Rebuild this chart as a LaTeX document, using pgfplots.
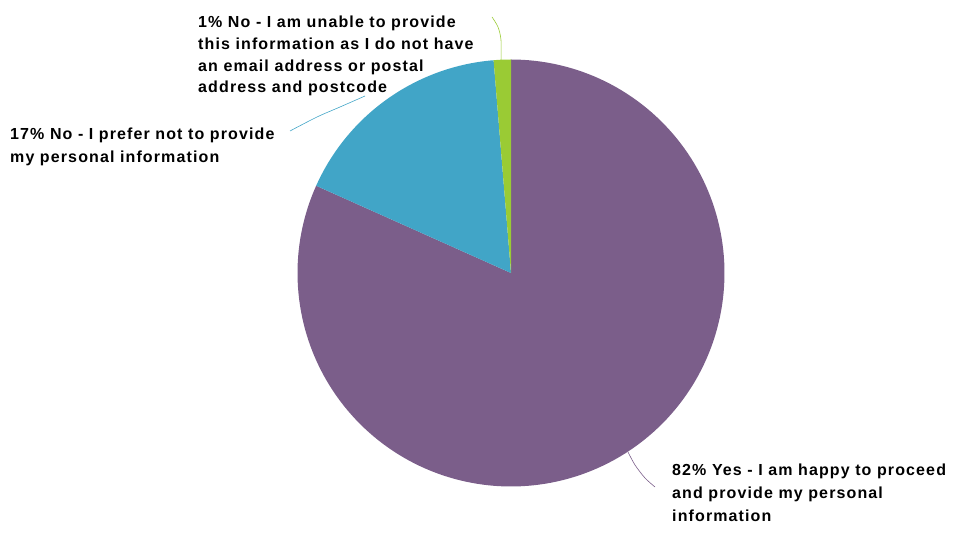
\documentclass[border=0pt]{standalone}
\usepackage{pgfplots}
\pgfplotsset{compat=1.18}
\usepackage{fontspec}
\setmainfont{Liberation Sans}[LetterSpace=7]
\definecolor{cpurple}{RGB}{123,94,138}
\definecolor{cblue}{RGB}{65,165,199}
\definecolor{cgreen}{RGB}{154,203,52}
\begin{document}
\begin{tikzpicture}
% data: shares in percent
\def\vYes{81.7}\def\vPref{17.0}\def\vUnable{1.3}
\pgfmathsetmacro\aA{90}
\pgfmathsetmacro\aB{\aA-3.6*\vYes}
\pgfmathsetmacro\aC{\aB-3.6*\vPref}
\pgfmathsetmacro\aD{\aC-3.6*\vUnable}
\def\cx{511}\def\cy{271}\def\R{213.5}
\begin{axis}[width=957bp,height=544bp,scale only axis,
  xmin=0,xmax=957,ymin=0,ymax=544,hide axis,clip=false]
\path (axis cs:0,0) rectangle (axis cs:957,544);
\addplot[fill=cpurple,draw=none,domain=\aB:\aA,samples=180]
  ({\cx+\R*cos(x)},{\cy+\R*sin(x)}) -- (axis cs:\cx,\cy) -- cycle;
\addplot[fill=cblue,draw=none,domain=\aC:\aB,samples=60]
  ({\cx+\R*cos(x)},{\cy+\R*sin(x)}) -- (axis cs:\cx,\cy) -- cycle;
\addplot[fill=cgreen,draw=none,domain=\aD:\aC,samples=10]
  ({\cx+\R*cos(x)},{\cy+\R*sin(x)}) -- (axis cs:\cx,\cy) -- cycle;
% leader lines
\addplot[cgreen,semithick,smooth] coordinates {(492,527) (498,517) (501,504) (501,483)};
\addplot[cblue,semithick,smooth] coordinates {(290,413) (317,427) (340,437) (365,448)};
\addplot[cpurple,semithick,smooth] coordinates {(628,92) (635,79) (645,66) (655,57)};
% labels
\begin{scope}[every node/.style={anchor=base west,inner sep=0pt,font=\bfseries\fontsize{16bp}{18bp}\selectfont}]
\node at (axis cs:198,516) {1\% No - I am unable to provide};
\node at (axis cs:198,494) {this information as I do not have};
\node at (axis cs:198,472) {an email address or postal};
\node at (axis cs:198,451) {address and postcode};
\node at (axis cs:10,404) {17\% No - I prefer not to provide};
\node at (axis cs:10,381) {my personal information};
\node at (axis cs:672,68) {82\% Yes - I am happy to proceed};
\node at (axis cs:672,45) {and provide my personal};
\node at (axis cs:672,23) {information};
\end{scope}
\end{axis}
\end{tikzpicture}
\end{document}
